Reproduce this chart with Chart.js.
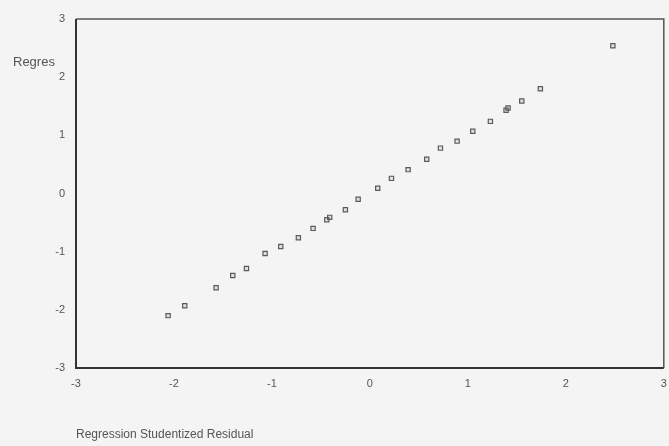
<!DOCTYPE html>
<html>
<head>
<meta charset="utf-8">
<script src="https://cdn.jsdelivr.net/npm/chart.js@4"></script>
<style>
  html, body { margin: 0; padding: 0; background: #f4f4f4; }
  #wrap { width: 669px; height: 446px; position: relative; }
</style>
</head>
<body>
<div id="wrap"><canvas id="c" width="669" height="446"></canvas></div>
<script>
// Observed values (Regression Studentized Residual) and expected values
const residualX = [-2.06, -1.89, -1.57, -1.40, -1.26, -1.07, -0.91, -0.73, -0.58, -0.44, -0.41, -0.25, -0.12, 0.08, 0.22, 0.39, 0.58, 0.72, 0.89, 1.05, 1.23, 1.39, 1.41, 1.55, 1.74, 2.48];
const expectedY = [-2.10, -1.93, -1.62, -1.41, -1.29, -1.03, -0.91, -0.76, -0.60, -0.45, -0.41, -0.28, -0.10, 0.09, 0.26, 0.41, 0.59, 0.78, 0.90, 1.07, 1.24, 1.43, 1.47, 1.59, 1.80, 2.54];
const xTicks = [-3, -2, -1, 0, 1, 2, 3];
const yTicks = [-3, -2, -1, 0, 1, 2, 3];
const xTitle = 'Regression Studentized Residual';
const yTitleFragment = 'Regres';

const points = residualX.map((x, i) => ({ x: x, y: expectedY[i] }));

const framePlugin = {
  id: 'frame',
  afterDraw(chart) {
    const { ctx, chartArea: a } = chart;
    ctx.save();
    ctx.strokeStyle = '#555';
    ctx.lineWidth = 1.5;
    ctx.beginPath();
    ctx.moveTo(a.left, a.top);
    ctx.lineTo(a.right, a.top);
    ctx.lineTo(a.right, a.bottom);
    ctx.stroke();
    ctx.strokeStyle = '#333';
    ctx.lineWidth = 2;
    ctx.beginPath();
    ctx.moveTo(a.left, a.top);
    ctx.lineTo(a.left, a.bottom);
    ctx.lineTo(a.right, a.bottom);
    ctx.stroke();
    ctx.fillStyle = '#555';
    ctx.font = '13px "Liberation Sans", Arial, sans-serif';
    ctx.textBaseline = 'middle';
    ctx.textAlign = 'left';
    ctx.fillText(yTitleFragment, 13, 62);
    ctx.restore();
  }
};

new Chart(document.getElementById('c'), {
  type: 'scatter',
  data: {
    datasets: [{
      data: points,
      pointStyle: 'rect',
      pointRadius: 3,
      pointBorderWidth: 1.2,
      borderColor: '#5a5a5a',
      backgroundColor: 'rgba(120,120,120,0.15)'
    }]
  },
  options: {
    responsive: false,
    animation: false,
    devicePixelRatio: 1,
    layout: { padding: { top: 19, right: 0, left: 0, bottom: 0 } },
    plugins: { legend: { display: false }, tooltip: { enabled: false } },
    scales: {
      x: {
        type: 'linear',
        min: -3, max: 3,
        afterBuildTicks(s) { s.ticks = xTicks.map(v => ({ value: v })); },
        afterFit(s) { s.height = 78; s.paddingRight = 0; },
        grid: { display: false, drawTicks: true, tickLength: 4, color: '#444' },
        border: { display: false },
        ticks: {
          color: '#555',
          padding: 5,
          maxRotation: 0,
          font: { family: '"Liberation Sans", Arial, sans-serif', size: 11 }
        },
        title: {
          display: true,
          text: xTitle,
          align: 'start',
          color: '#555',
          padding: { top: 0, bottom: 4 },
          font: { family: '"Liberation Sans", Arial, sans-serif', size: 12 }
        }
      },
      y: {
        type: 'linear',
        min: -3, max: 3,
        afterBuildTicks(s) { s.ticks = yTicks.map(v => ({ value: v })); },
        afterFit(s) { s.width = 76; },
        grid: { display: false, drawTicks: true, tickLength: 4, color: '#444' },
        border: { display: false },
        ticks: {
          color: '#555',
          padding: 7,
          font: { family: '"Liberation Sans", Arial, sans-serif', size: 11 }
        }
      }
    }
  },
  plugins: [framePlugin]
});
</script>
</body>
</html>
